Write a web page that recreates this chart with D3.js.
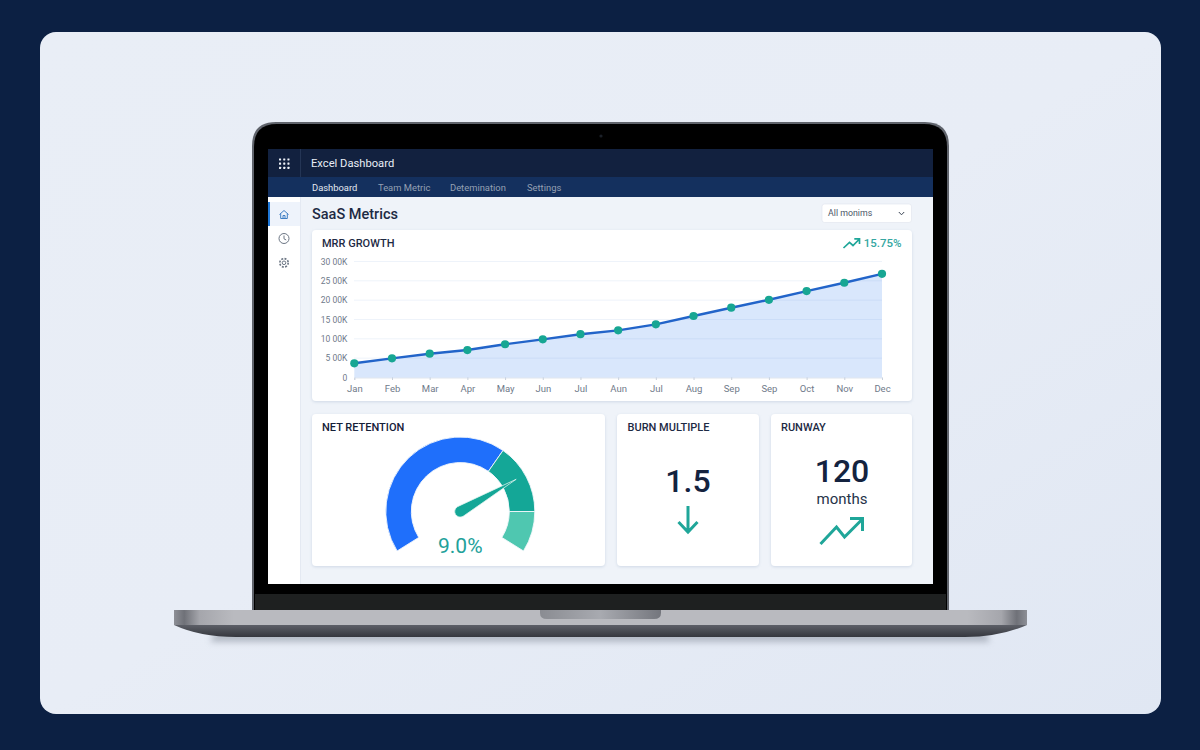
<!DOCTYPE html>
<html><head><meta charset="utf-8">
<script src="https://cdn.jsdelivr.net/npm/d3@7/dist/d3.min.js"></script>
<style>html,body{margin:0;padding:0;background:#0c2043}svg{display:block;font-family:Roboto,sans-serif}</style>
</head><body><svg id="c" width="1200" height="750"></svg>
<script>
const monthLabels=["Jan","Feb","Mar","Apr","May","Jun","Jul","Aun","Jul","Aug","Sep","Sep","Oct","Nov","Dec"];
const mrrValues=[3670,4960,6150,7100,8600,9870,11200,12200,13750,15900,18050,20100,22350,24500,26800];
const yTicks=[0,5000,10000,15000,20000,25000,30000];
const yTickLabels=["0","5 00K","10 00K","15 00K","20 00K","25 00K","30 00K"];
const gaugeSegments=[157,55,32];
const gaugeColors=["#1f6ffb","#14a797","#4fc7b0"];
const gaugeNeedle=74.6;
const navItems=["Dashboard","Team Metric","Detemination","Settings"];

const svg=d3.select("#c");
const defs=svg.append("defs");
function lin(id,x1,y1,x2,y2,stops){const g=defs.append("linearGradient").attr("id",id).attr("x1",x1).attr("y1",y1).attr("x2",x2).attr("y2",y2);
 stops.forEach(s=>g.append("stop").attr("offset",s[0]).attr("stop-color",s[1]));}
lin("panel",0,0,1,1,[[0,"#e9eef6"],[.5,"#e8edf6"],[1,"#e0e7f3"]]);
lin("baseH",0,0,1,0,[[0,"#8d8f96"],[.012,"#6f7178"],[.03,"#a5a6ac"],[.07,"#b9babf"],[.93,"#b9babf"],[.97,"#a5a6ac"],[.988,"#6f7178"],[1,"#8d8f96"]]);
lin("baseV",0,0,0,1,[[0,"#7d8088"],[.5,"#62656d"],[1,"#35373e"]]);
lin("notch",0,0,1,0,[[0,"#8a8c92"],[.5,"#a8aab0"],[1,"#74767d"]]);
const sh=defs.append("filter").attr("id","sh").attr("x","-10%").attr("y","-10%").attr("width","120%").attr("height","125%");
sh.append("feDropShadow").attr("dx",0).attr("dy",1).attr("stdDeviation",1.6).attr("flood-color","#9fb0c8").attr("flood-opacity",.4);
const bl=defs.append("filter").attr("id","bl").attr("x","-5%").attr("y","-100%").attr("width","110%").attr("height","300%");
bl.append("feGaussianBlur").attr("stdDeviation",3);

function rect(p,x,y,w,h,fill,r){return p.append("rect").attr("x",x).attr("y",y).attr("width",w).attr("height",h).attr("fill",fill).attr("rx",r||0);}
function text(p,s,x,y,size,fill,weight,anchor){return p.append("text").text(s).attr("x",x).attr("y",y).attr("font-size",size).attr("fill",fill).attr("font-weight",weight||400).attr("text-anchor",anchor||"start");}

// page and panel
rect(svg,0,0,1200,750,"#0c2043");
rect(svg,40,32,1121,682,"url(#panel)",16);

// laptop
svg.append("path").attr("d","M215 632H986L990 642H210Z").attr("fill","#8f96a3").attr("opacity",.6).attr("filter","url(#bl)");
svg.append("path").attr("d","M252 611V146Q252 122 276 122H925Q949 122 949 146V611Z").attr("fill","#60646c");
svg.append("path").attr("d","M254 610V147Q254 124 277 124H924Q947 124 947 147V610Z").attr("fill","#000");
rect(svg,255,594,691,16,"#1e2020");
svg.append("circle").attr("cx",601).attr("cy",136).attr("r",1.6).attr("fill","#1b2028");
svg.append("path").attr("d","M174 610H1027V625Q1000 637 965 637H236Q200 637 174 625Z").attr("fill","url(#baseV)");
rect(svg,174,610,853,15,"url(#baseH)");
svg.append("path").attr("d","M540 610H661V613Q661 619 654 619H547Q540 619 540 613Z").attr("fill","url(#notch)");

// screen
rect(svg,268,149,665,435,"#eff3f9");
rect(svg,268,149,665,28,"#12213f");
rect(svg,268,177,665,20,"#14305e");
rect(svg,300,149,.8,28,"#2a3b5c");
const dots=d3.range(3);
dots.forEach(i=>dots.forEach(j=>rect(svg,279+i*4.2,158.4+j*4.2,2.1,2.1,"#eef2f8",.4)));
text(svg,"Excel Dashboard",311,167,11.2,"#e8edf5",400);
const navX=[312,378,450,527];
navItems.forEach((n,i)=>text(svg,n,navX[i],191,9.4,i?"#94a0b3":"#e2e8f1",400));

// sidebar
rect(svg,268,197,32,387,"#fff");
rect(svg,300,197,.8,387,"#e1e7f0");
rect(svg,268,202,32,24,"#eef3fb");
rect(svg,268,202,2,24,"#1f78d8");
svg.append("path").attr("d","M279.5 214.5L284 210.5L288.5 214.5M280.7 213.6V218.5H287.3V213.6M283 218.5V215.5H285V218.5").attr("fill","none").attr("stroke","#3f7fc4").attr("stroke-width",1);
svg.append("circle").attr("cx",284).attr("cy",238.5).attr("r",5).attr("fill","none").attr("stroke","#6c7684").attr("stroke-width",1);
svg.append("path").attr("d","M284 235.5V238.8L286.2 240").attr("fill","none").attr("stroke","#6c7684").attr("stroke-width",1);
svg.append("circle").attr("cx",284).attr("cy",262.8).attr("r",1.8).attr("fill","none").attr("stroke","#6c7684").attr("stroke-width",1);
svg.append("circle").attr("cx",284).attr("cy",262.8).attr("r",4.2).attr("fill","none").attr("stroke","#6c7684").attr("stroke-width",1.6).attr("stroke-dasharray","2 1.3");

// heading, dropdown
text(svg,"SaaS Metrics",312,219,14.5,"#1d2a44",500);
rect(svg,822,204,89.5,18.5,"#fff",2.5).attr("stroke","#e2e7ef").attr("stroke-width",.7);
text(svg,"All monims",828,216.3,8.8,"#4b5668");
svg.append("path").attr("d","M898.8 212L901.5 214.8L904.2 212").attr("fill","none").attr("stroke","#3c4656").attr("stroke-width",1);

// cards
const cards=[[312,230,600,171],[312,414,293,152],[617,414,142,152],[771,414,141,152]];
cards.forEach(c=>rect(svg,c[0],c[1],c[2],c[3],"#fff",4).attr("filter","url(#sh)"));
text(svg,"MRR GROWTH",322,247,11,"#1d2a44",500);
text(svg,"NET RETENTION",322,431,11,"#152038",500);
text(svg,"BURN MULTIPLE",627.5,431,11,"#1d2a44",500);
text(svg,"RUNWAY",781,431,11,"#1d2a44",500);

// trend badge
const teal="#1fa699";
svg.append("path").attr("d","M843.5 248L849.5 242.3L853 245.5L859.5 239M854.3 238.8H859.5V244").attr("fill","none").attr("stroke",teal).attr("stroke-width",1.7);
text(svg,"15.75%",901.5,247,11.5,"#35a7a2",500,"end");

// line chart
const x=d3.scalePoint().domain(d3.range(monthLabels.length)).range([354.3,882]);
const y=d3.scaleLinear().domain([0,30000]).range([377.5,261.5]);
svg.append("g").selectAll("line").data(yTicks.slice(1)).join("line")
 .attr("x1",354).attr("x2",882).attr("y1",d=>y(d)).attr("y2",d=>y(d)).attr("stroke","#eef3fa").attr("stroke-width",1);
const yAxis=svg.append("g").attr("transform","translate(354.3,0)")
 .call(d3.axisLeft(y).tickValues(yTicks).tickSize(0).tickPadding(7).tickFormat((d,i)=>yTickLabels[i]));
yAxis.select(".domain").remove();
yAxis.selectAll("text").attr("font-size",8.5).attr("font-family","Roboto").attr("fill","#6f7a8a");
const xAxis=svg.append("g").attr("transform","translate(0,377.5)")
 .call(d3.axisBottom(x).tickSize(2.5).tickPadding(5).tickFormat(i=>monthLabels[i]));
xAxis.select(".domain").attr("stroke","#dfe5ee");
xAxis.selectAll("line").attr("stroke","#c9d1dc");
xAxis.selectAll("text").attr("font-size",9.5).attr("font-family","Roboto").attr("fill","#6f7a8a");
const rows=mrrValues.map((v,i)=>({i,v}));
svg.append("path").datum(rows).attr("fill","#1e6ef0").attr("fill-opacity",.17)
 .attr("d",d3.area().x(d=>x(d.i)).y0(y(0)).y1(d=>y(d.v)));
svg.append("path").datum(rows).attr("fill","none").attr("stroke","#2264c9").attr("stroke-width",2.4)
 .attr("d",d3.line().x(d=>x(d.i)).y(d=>y(d.v)));
svg.append("g").selectAll("circle").data(rows).join("circle")
 .attr("cx",d=>x(d.i)).attr("cy",d=>y(d.v)).attr("r",4.1).attr("fill","#17a693");

// gauge
const gc=[460.3,511.5];
const gauge=svg.append("g").attr("transform",`translate(${gc})`);
const toRad=d=>d*Math.PI/180;
const pie=d3.pie().sort(null).startAngle(toRad(-122)).endAngle(toRad(122));
const arc=d3.arc().innerRadius(49).outerRadius(74.5);
gauge.selectAll("path").data(pie(gaugeSegments)).join("path").attr("d",arc)
 .attr("fill",(d,i)=>gaugeColors[i]).attr("stroke","#f2f6fb").attr("stroke-width",.9);
const needle=gauge.append("g").attr("transform",`rotate(${d3.scaleLinear().domain([0,100]).range([-122,122])(gaugeNeedle)})`);
needle.append("path").attr("d","M-5.6 0L0 -64.5L5.6 0A5.6 5.6 0 0 1 -5.6 0Z").attr("fill","#14a797").attr("stroke","#dff3ee").attr("stroke-width",.7);
text(svg,"9.0%",460.3,553,21,"#22a19a",400,"middle");

// KPI cards
text(svg,"1.5",688,492,32,"#14233f",500,"middle");
svg.append("path").attr("d","M688 506V532M678.5 522L688 532L697.5 522").attr("fill","none").attr("stroke",teal).attr("stroke-width",3);
text(svg,"120",842,482,32,"#14233f",500,"middle");
text(svg,"months",842,504,15,"#263349",400,"middle");
svg.append("path").attr("d","M820.5 544L836.5 527L844.5 537L862 519.5M850 518.5H862.5V531").attr("fill","none").attr("stroke",teal).attr("stroke-width",3);
</script></body></html>
